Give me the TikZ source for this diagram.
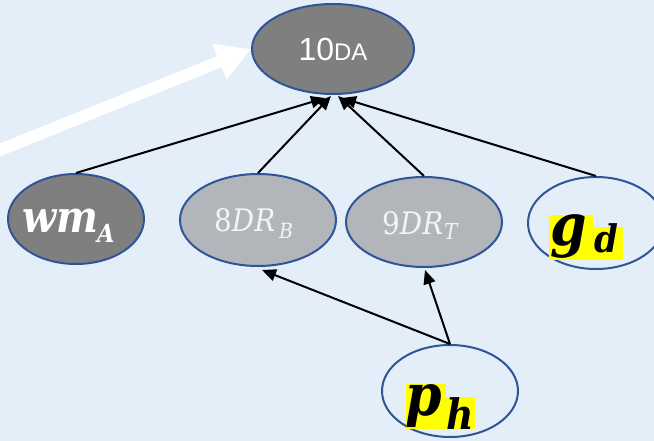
\documentclass[tikz,border=0pt]{standalone}
\usepackage{fontspec}
\setmainfont{Liberation Sans}
\newfontfamily\mathserif{DejaVu Serif Condensed}
\usetikzlibrary{shapes.geometric,arrows.meta,calc}

\definecolor{canvas}{HTML}{E4EEF8}
\definecolor{darkfill}{HTML}{7F7F7F}
\definecolor{lightfill}{HTML}{B2B6BA}
\definecolor{rimblue}{HTML}{2F5597}
\definecolor{hilite}{HTML}{FFFF00}
\definecolor{softwhite}{HTML}{F4F4F4}

\newcommand\fsz[1]{\fontsize{#1}{#1}\selectfont}

\tikzset{
  bubble/.style={ellipse, draw=rimblue, line width=2pt, inner sep=0pt},
  glyph/.style={inner sep=0pt, anchor=base west},
  link/.style={line width=2pt, -{Triangle[length=14pt,width=12pt]}},
  bigarrow/.style={line width=12pt, white, -{Triangle[length=34pt,width=36pt]}}
}

\begin{document}
\begin{tikzpicture}[x=1pt,y=-1pt]
  \useasboundingbox (0,0) rectangle (654,441);
  \fill[canvas] (0,0) rectangle (654,441);

  % ellipses
  \node[bubble, fill=darkfill, minimum width=162pt, minimum height=90pt, text=white]
    (da) at (333,49) {\fsz{32}10{\fsz{24}DA}};
  \node[bubble, fill=darkfill, minimum width=136pt, minimum height=90pt] (wm) at (76,219) {};
  \node[bubble, fill=lightfill, minimum width=156pt, minimum height=92pt] (b8) at (258,220) {};
  \node[bubble, fill=lightfill, minimum width=156pt, minimum height=90pt] (t9) at (424,222) {};
  \node[bubble, minimum width=136pt, minimum height=92pt] (gd) at (596,223) {};
  \node[bubble, minimum width=136pt, minimum height=92pt] (ph) at (450,391) {};

  % highlight boxes behind the bold letters
  \fill[hilite] (549,215) rectangle (593,260);
  \fill[hilite] (593,227) rectangle (623,260);
  \fill[hilite] (406,384) rectangle (446,429);
  \fill[hilite] (446,397) rectangle (475,429);

  % labels
  \node[glyph, text=white] (wmt) at (22,233) {\mathserif\bfseries\itshape\fsz{44}wm};
  \node[glyph, text=white] (wms) at (97,243) {\mathserif\bfseries\itshape\fsz{25}A};
  \node[glyph, text=softwhite] (b8t) at (214,232) {\mathserif\fsz{31}8\itshape DR};
  \node[glyph, text=softwhite] (b8s) at (279,239) {\mathserif\itshape\fsz{21}B};
  \node[glyph, text=softwhite] (t9t) at (382,234) {\mathserif\fsz{31}9\itshape DR};
  \node[glyph, text=softwhite] (t9s) at (444,240) {\mathserif\itshape\fsz{22}T};
  \node[glyph] (gdt) at (550,245) {\mathserif\bfseries\itshape\fsz{58}g};
  \node[glyph] (gds) at (594,252) {\mathserif\bfseries\itshape\fsz{38}d};
  \node[glyph] (pht) at (405,415) {\mathserif\bfseries\itshape\fsz{58}p};
  \node[glyph] (phs) at (446,429) {\mathserif\bfseries\itshape\fsz{42}h};

  % connectors
  \coordinate (tail) at (-10,154);
  \draw[bigarrow] (tail) -- (da.west);
  \draw[link] (wm.north) -- ($(da.south)+(-8,3)$);
  \draw[link] (b8.north) -- ($(da.south)+(-2,1)$);
  \draw[link] (t9.north) -- ($(da.south)+(5,1)$);
  \draw[link] (gd.north) -- ($(da.south)+(9,3)$);
  \draw[link] (ph.north) -- ($(b8.south)+(4,3)$);
  \draw[link] (ph.north) -- ($(t9.south)+(1,2)$);
\end{tikzpicture}
\end{document}
